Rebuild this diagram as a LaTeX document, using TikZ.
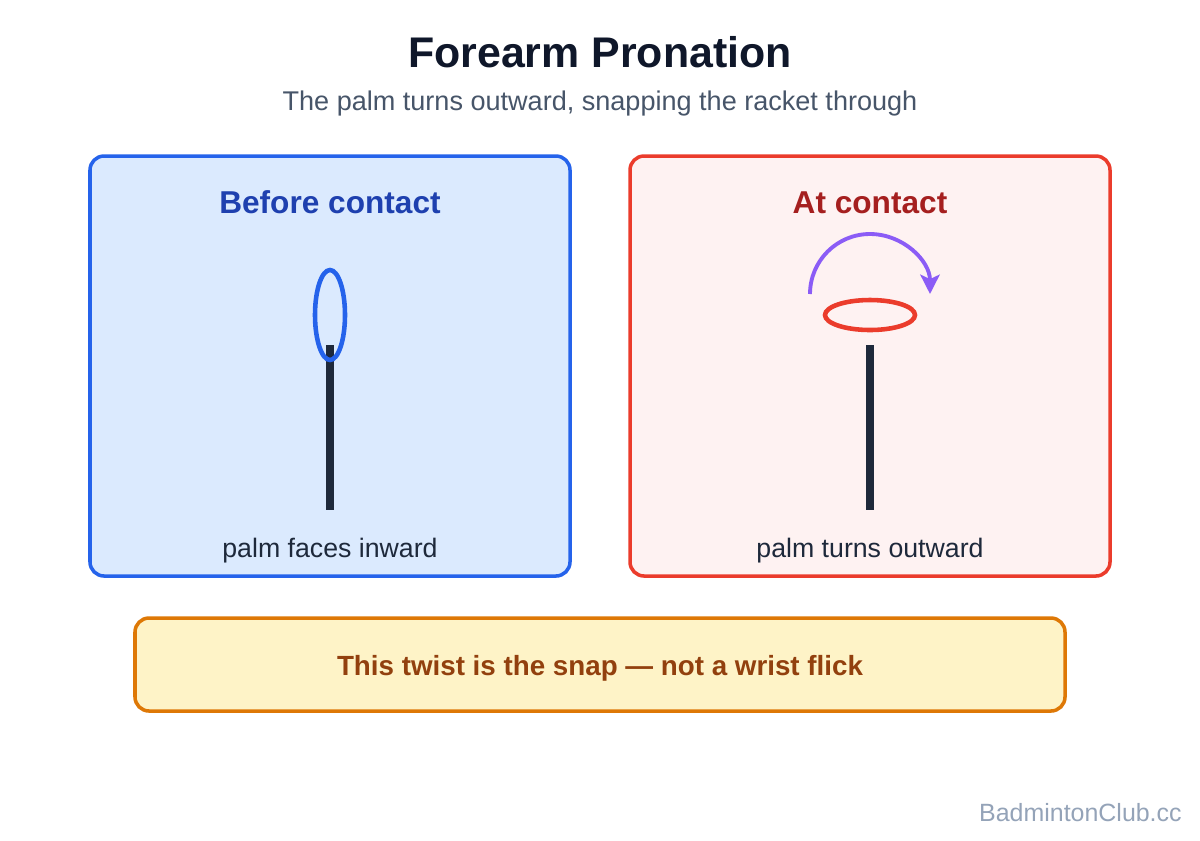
\documentclass[tikz,border=0pt]{standalone}
\usepackage{fontspec}
\setmainfont{Liberation Sans}
\setsansfont{Liberation Sans}
\usetikzlibrary{arrows.meta}
\definecolor{navy}{RGB}{15, 23, 42}
\definecolor{slategray}{RGB}{71, 85, 105}
\definecolor{royal}{RGB}{37, 99, 235}
\definecolor{lightroyal}{RGB}{219, 234, 254}
\definecolor{deeproyal}{RGB}{30, 64, 175}
\definecolor{scarlet}{RGB}{235, 60, 44}
\definecolor{lightscarlet}{RGB}{254, 242, 242}
\definecolor{deepscarlet}{RGB}{165, 31, 31}
\definecolor{grip}{RGB}{30, 41, 59}
\definecolor{violet}{RGB}{139, 92, 246}
\definecolor{amber}{RGB}{222, 120, 6}
\definecolor{lightamber}{RGB}{254, 243, 199}
\definecolor{rust}{RGB}{146, 64, 14}
\definecolor{mist}{RGB}{148, 163, 184}

\begin{document}
\begin{tikzpicture}[
    x=0.02cm, y=-0.02cm,
    font=\sffamily,
    panel/.style={rounded corners=8pt, line width=2pt},
    heading/.style={anchor=base, font=\fontsize{18}{22}\selectfont\bfseries},
    caption/.style={anchor=base, font=\fontsize{15.2}{18}\selectfont, text=grip},
    handle/.style={grip, line width=4.5pt},
    racket/.style={line width=2.6pt}
]
    \useasboundingbox[fill=white] (0,0) rectangle (1200,840);

    % =========================================================================
    % TITLE
    % =========================================================================
    \node[anchor=base, font=\fontsize{24.4}{29}\selectfont\bfseries, text=navy] (title) at (600, 67) {Forearm Pronation};
    \node[anchor=base, font=\fontsize{15.4}{19}\selectfont, text=slategray] (subtitle) at (600, 110) {The palm turns outward, snapping the racket through};

    % =========================================================================
    % LEFT PANEL: BEFORE CONTACT
    % =========================================================================
    \draw[panel, draw=royal, fill=lightroyal] (90, 156) rectangle (570, 576);
    \node[heading, text=deeproyal] (beforehead) at (330, 213) {Before contact};

    % handle first, racket head on top
    \draw[handle] (330, 345) -- (330, 510);
    \draw[racket, royal] (330, 315) ellipse [x radius=15, y radius=45];
    \node[caption] (beforecap) at (330, 557) {palm faces inward};

    % =========================================================================
    % RIGHT PANEL: AT CONTACT
    % =========================================================================
    \draw[panel, draw=scarlet, fill=lightscarlet] (630, 156) rectangle (1110, 576);
    \node[heading, text=deepscarlet] (athead) at (870, 213) {At contact};

    \draw[handle] (870, 345) -- (870, 510);
    \draw[racket, scarlet] (870, 315) ellipse [x radius=45, y radius=15];

    % twist arrow over the head
    \draw[-{Stealth[length=11pt, width=11pt, inset=2.5pt]}, violet, line width=2.2pt] (810, 294) arc[start angle=180, end angle=360, radius=60];
    \node[caption] (atcap) at (870, 557) {palm turns outward};

    % =========================================================================
    % NOTE + FOOTER
    % =========================================================================
    \draw[panel, draw=amber, fill=lightamber] (135, 618) rectangle (1065, 711);
    \node[anchor=base, font=\fontsize{15.8}{19}\selectfont\bfseries, text=rust] (note) at (600, 675) {This twist is the snap — not a wrist flick};

    \node[anchor=base east, inner sep=0pt, font=\fontsize{14.2}{17}\selectfont, text=mist] (footer) at (1182, 821) {BadmintonClub.cc};

\end{tikzpicture}
\end{document}
